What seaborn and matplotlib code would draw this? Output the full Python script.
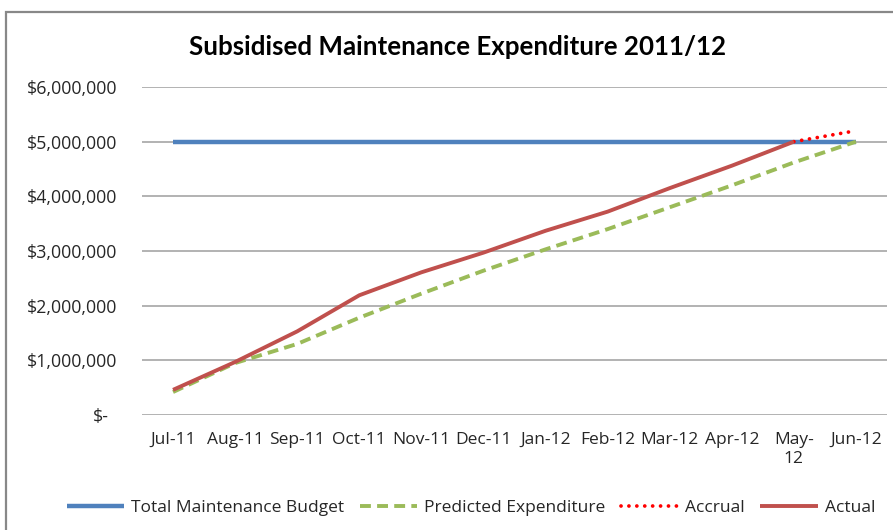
import numpy as np
import pandas as pd
import seaborn as sns
import matplotlib
matplotlib.use("Agg")
import matplotlib.pyplot as plt
from matplotlib.patches import Rectangle
from matplotlib.transforms import ScaledTranslation

# ---- data ----
months = ["Jul-11", "Aug-11", "Sep-11", "Oct-11", "Nov-11", "Dec-11",
          "Jan-12", "Feb-12", "Mar-12", "Apr-12", "May-\n12", "Jun-12"]
budget = [5000000, 5000000, 5000000, 5000000, 5000000, 5000000,
          5000000, 5000000, 5000000, 5000000, 5000000, 5000000]
predicted = [420000, 950000, 1300000, 1780000, 2220000, 2640000,
             3030000, 3400000, 3800000, 4200000, 4620000, 5000000]
accrual = [np.nan, np.nan, np.nan, np.nan, np.nan, np.nan,
           np.nan, np.nan, np.nan, np.nan, 5000000, 5200000]
actual = [460000, 970000, 1530000, 2190000, 2610000, 2970000,
          3370000, 3720000, 4150000, 4560000, 5000000, np.nan]
series_names = ["Total Maintenance Budget", "Predicted Expenditure", "Accrual", "Actual"]
ytick_values = [0, 1000000, 2000000, 3000000, 4000000, 5000000, 6000000]
ytick_labels = ["$-", "$1,000,000", "$2,000,000", "$3,000,000",
                "$4,000,000", "$5,000,000", "$6,000,000"]
title = "Subsidised Maintenance Expenditure 2011/12"

sns.set_theme(style="white")
plt.rcParams["font.family"] = ["Open Sans", "DejaVu Sans"]
plt.rcParams["text.color"] = "#262626"

fig = plt.figure(figsize=(8.93, 5.30), dpi=100)
ax = fig.add_axes([142 / 893, 1 - 415 / 530, (887 - 142) / 893, (415 - 87) / 530])

x = np.arange(len(months))
df = pd.DataFrame({"x": x, "budget": budget, "predicted": predicted,
                   "accrual": accrual, "actual": actual})

sns.lineplot(data=df, x="x", y="budget", ax=ax, color="#4F81BD", lw=3.2,
             label=series_names[0], solid_capstyle="butt")
sns.lineplot(data=df, x="x", y="predicted", ax=ax, color="#9BBB59", lw=2.8,
             label=series_names[1], linestyle=(0, (2.8, 1.6)), dash_capstyle="butt")
sns.lineplot(data=df.dropna(subset=["accrual"]), x="x", y="accrual", ax=ax,
             color="#FF0000", lw=2.7, label=series_names[2],
             linestyle=(0, (0.01, 2.1)), dash_capstyle="round")
sns.lineplot(data=df.dropna(subset=["actual"]), x="x", y="actual", ax=ax,
             color="#C0504D", lw=2.8, label=series_names[3], solid_capstyle="butt")

ax.set_xlim(-0.5, len(months) - 0.5)
ax.set_ylim(0, 6000000)
ax.set_xticks(x)
ax.set_xticklabels(months, fontsize=12.5, color="#262626", linespacing=1.25)
ax.set_yticks(ytick_values)
ax.set_yticklabels(ytick_labels, fontsize=12.8, color="#262626")
ax.set_xlabel("")
ax.set_ylabel("")
ax.tick_params(axis="x", length=0, pad=12)
ax.tick_params(axis="y", length=0, pad=18)
ax.grid(axis="y", color="#a6a6a6", lw=1.2)
ax.set_axisbelow(True)
for s in ax.spines.values():
    s.set_visible(False)

# shift "$-" label left (accounting format alignment)
lbl0 = ax.get_yticklabels()[0]
lbl0.set_transform(lbl0.get_transform() + ScaledTranslation(-8 / 100, 0, fig.dpi_scale_trans))

handles, labels = ax.get_legend_handles_labels()
if ax.get_legend() is not None:
    ax.get_legend().remove()
fig.legend(handles, labels, loc="center", bbox_to_anchor=(471 / 893, 1 - 508 / 530),
           ncol=4, frameon=False, fontsize=12.5, handlelength=3.3,
           handletextpad=0.4, columnspacing=0.9)

fig.text(458 / 893, 1 - 47 / 530, title, ha="center", va="center",
         fontsize=18.6, fontweight="bold", color="black",
         family=["Lato", "DejaVu Sans"])

fig.patches.append(Rectangle((6 / 893, -0.05), 1.1, 1 - 12 / 530 + 0.05,
                             transform=fig.transFigure, fill=False,
                             edgecolor="#888888", lw=1.6))

fig.savefig("out.png", dpi=100)
